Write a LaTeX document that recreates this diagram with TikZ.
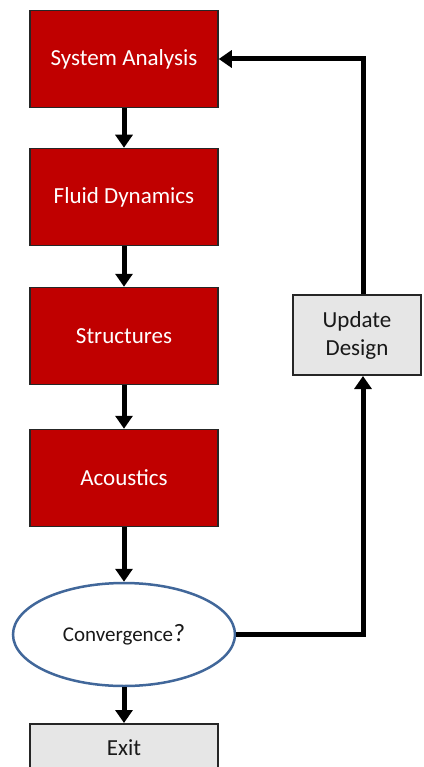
\documentclass[tikz,border=0pt]{standalone}
\usepackage{fontspec}
\setmainfont{Carlito}
\usetikzlibrary{arrows.meta,shapes.geometric}
\definecolor{boxred}{RGB}{192,0,0}
\definecolor{boxgray}{RGB}{230,230,230}
\definecolor{ellblue}{RGB}{65,103,154}
\begin{document}
\begin{tikzpicture}[x=1pt,y=-1pt,
  redbox/.style={draw=black!85,line width=1.5pt,fill=boxred,text=white,minimum width=188pt,minimum height=97pt,font=\fontsize{23}{27}\selectfont,inner sep=0pt},
  graybox/.style={draw=black!85,line width=2pt,fill=boxgray,text=black!90,font=\fontsize{23}{28}\selectfont,inner sep=0pt,align=center},
  conn/.style={line width=5pt,-{Triangle[width=17pt,length=13pt]}}
]
\useasboundingbox (0,0) rectangle (423,767);
\clip (0,0) rectangle (423,767);
\node[redbox] (sa) at (124,59) {System Analysis};
\node[redbox] (fd) at (124,197) {Fluid Dynamics};
\node[redbox] (st) at (124,336) {Structures};
\node[redbox] (ac) at (124,478) {Acoustics};
\node[ellipse,draw=ellblue,line width=2.5pt,fill=white,minimum width=222pt,minimum height=103pt,inner sep=0pt,text=black!90,font=\fontsize{21}{25}\selectfont] (cv) at (124,634.5) {Convergence{\kern0.5pt\fontsize{25}{25}\selectfont ?}};
\node[graybox,minimum width=188pt,minimum height=48pt] (ex) at (124,748) {Exit};
\node[graybox,minimum width=128pt,minimum height=80pt] (ud) at (357,335) {Update\\Design};
\coordinate (fb) at (363,59);
\draw[conn] (sa.south) -- (fd.north);
\draw[conn] (fd.south) -- (st.north);
\draw[conn] (st.south) -- (ac.north);
\draw[conn] (ac.south) -- (cv.north);
\draw[conn] (cv.south) -- (ex.north);
\draw[conn] (cv.east) -| (fb |- ud.south);
\draw[conn] (fb |- ud.north) -- (fb) -- (sa.east);
\end{tikzpicture}
\end{document}
